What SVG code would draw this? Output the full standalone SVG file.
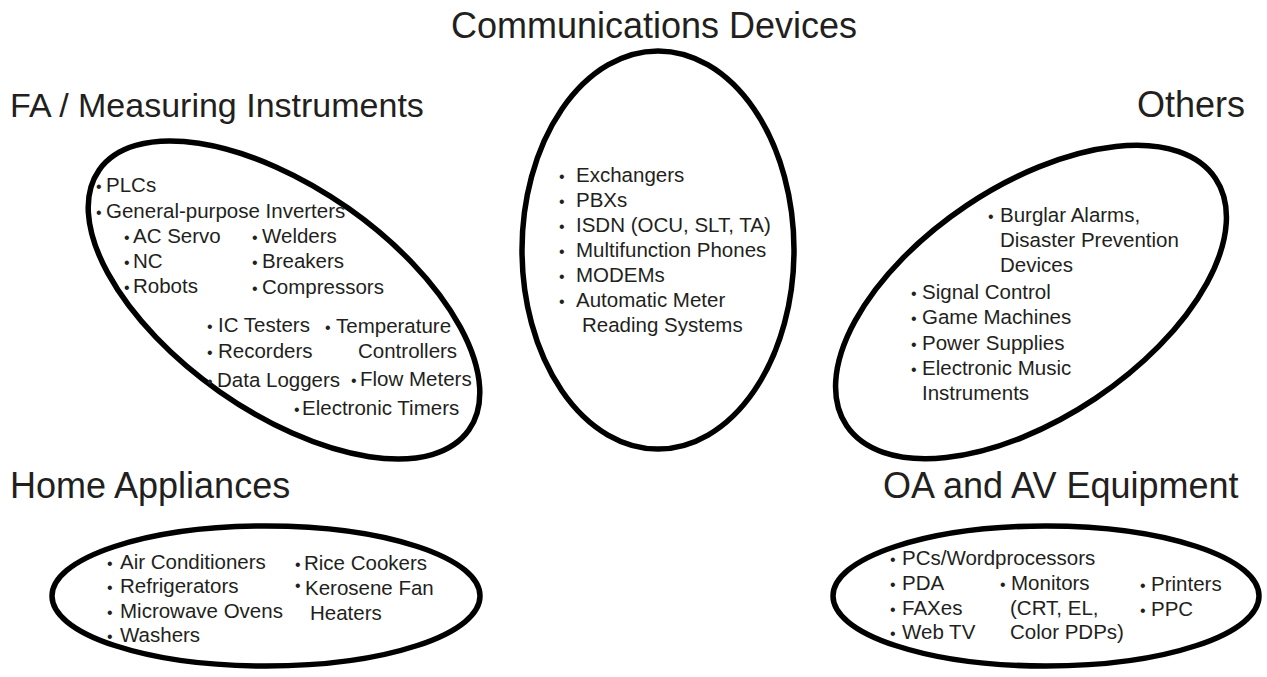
<svg xmlns="http://www.w3.org/2000/svg" width="1267" height="677" viewBox="0 0 1267 677">
<style>
.ring{fill:none;stroke:#000;stroke-width:5.5}
.title{font-family:"Liberation Sans",Arial,sans-serif;font-size:36px;fill:#231f20}
.t{font-family:"Liberation Sans",Arial,sans-serif;font-size:20.5px;fill:#231f20}
.b{font-size:16px}
</style>
<rect width="1267" height="677" fill="#fff"/>
<g id="connectors"></g>

<g id="communications">
<ellipse class="ring" cx="658" cy="250" rx="136" ry="199"/>
<text class="title" x="654" y="38" text-anchor="middle">Communications Devices</text>
<text class="t" y="182"><tspan class="b" x="559">•</tspan><tspan x="576">Exchangers</tspan></text>
<text class="t" y="207"><tspan class="b" x="559">•</tspan><tspan x="576">PBXs</tspan></text>
<text class="t" y="232"><tspan class="b" x="559">•</tspan><tspan x="576">ISDN (OCU, SLT, TA)</tspan></text>
<text class="t" y="257"><tspan class="b" x="559">•</tspan><tspan x="576">Multifunction Phones</tspan></text>
<text class="t" y="282"><tspan class="b" x="559">•</tspan><tspan x="576">MODEMs</tspan></text>
<text class="t" y="307"><tspan class="b" x="559">•</tspan><tspan x="576">Automatic Meter</tspan></text>
<text class="t" x="582" y="332">Reading Systems</text>
</g>

<g id="fa">
<ellipse class="ring" cx="284" cy="300" rx="226" ry="112" transform="rotate(35.1 284 300)"/>
<text class="title" x="10" y="117" style="font-size:34px">FA / Measuring Instruments</text>
<text class="t" y="192"><tspan class="b" x="96">•</tspan><tspan x="106">PLCs</tspan></text>
<text class="t" y="218"><tspan class="b" x="96">•</tspan><tspan x="106">General-purpose Inverters</tspan></text>
<text class="t" y="243"><tspan class="b" x="124">•</tspan><tspan x="133">AC Servo</tspan></text>
<text class="t" y="268"><tspan class="b" x="124">•</tspan><tspan x="133">NC</tspan></text>
<text class="t" y="293"><tspan class="b" x="124">•</tspan><tspan x="133">Robots</tspan></text>
<text class="t" y="243"><tspan class="b" x="252">•</tspan><tspan x="262">Welders</tspan></text>
<text class="t" y="268"><tspan class="b" x="252">•</tspan><tspan x="262">Breakers</tspan></text>
<text class="t" y="294"><tspan class="b" x="252">•</tspan><tspan x="262">Compressors</tspan></text>
<text class="t" y="332"><tspan class="b" x="207">•</tspan><tspan x="218">IC Testers</tspan></text>
<text class="t" y="358"><tspan class="b" x="207">•</tspan><tspan x="218">Recorders</tspan></text>
<text class="t" y="387"><tspan class="b" x="207">•</tspan><tspan x="217">Data Loggers</tspan></text>
<text class="t" y="333"><tspan class="b" x="325">•</tspan><tspan x="336">Temperature</tspan></text>
<text class="t" x="358" y="358">Controllers</text>
<text class="t" y="386"><tspan class="b" x="351">•</tspan><tspan x="360">Flow Meters</tspan></text>
<text class="t" y="415"><tspan class="b" x="294">•</tspan><tspan x="302">Electronic Timers</tspan></text>
</g>

<g id="others">
<ellipse class="ring" cx="1031" cy="302" rx="222" ry="116" transform="rotate(-33.8 1031 302)"/>
<text class="title" x="1245" y="117" text-anchor="end">Others</text>
<text class="t" y="222"><tspan class="b" x="988">•</tspan><tspan x="1000">Burglar Alarms,</tspan></text>
<text class="t" x="1000" y="247">Disaster Prevention</text>
<text class="t" x="1000" y="272">Devices</text>
<text class="t" y="299"><tspan class="b" x="911">•</tspan><tspan x="922">Signal Control</tspan></text>
<text class="t" y="324"><tspan class="b" x="911">•</tspan><tspan x="922">Game Machines</tspan></text>
<text class="t" y="350"><tspan class="b" x="911">•</tspan><tspan x="922">Power Supplies</tspan></text>
<text class="t" y="375"><tspan class="b" x="911">•</tspan><tspan x="922">Electronic Music</tspan></text>
<text class="t" x="922" y="400">Instruments</text>
</g>

<g id="home">
<ellipse class="ring" cx="266" cy="596" rx="214" ry="70"/>
<text class="title" x="10" y="498">Home Appliances</text>
<text class="t" y="569"><tspan class="b" x="107">•</tspan><tspan x="120">Air Conditioners</tspan></text>
<text class="t" y="593"><tspan class="b" x="107">•</tspan><tspan x="120">Refrigerators</tspan></text>
<text class="t" y="618"><tspan class="b" x="107">•</tspan><tspan x="120">Microwave Ovens</tspan></text>
<text class="t" y="642"><tspan class="b" x="107">•</tspan><tspan x="120">Washers</tspan></text>
<text class="t" y="570"><tspan class="b" x="295">•</tspan><tspan x="304">Rice Cookers</tspan></text>
<text class="t" y="595"><tspan class="b" x="295" dy="-4">•</tspan><tspan x="305" dy="4">Kerosene Fan</tspan></text>
<text class="t" x="310" y="620">Heaters</text>
</g>

<g id="oa">
<ellipse class="ring" cx="1046" cy="596" rx="213" ry="70"/>
<text class="title" x="883" y="498">OA and AV Equipment</text>
<text class="t" y="565"><tspan class="b" x="890">•</tspan><tspan x="902">PCs/Wordprocessors</tspan></text>
<text class="t" y="590"><tspan class="b" x="890">•</tspan><tspan x="902">PDA</tspan></text>
<text class="t" y="615"><tspan class="b" x="890">•</tspan><tspan x="902">FAXes</tspan></text>
<text class="t" y="639"><tspan class="b" x="890">•</tspan><tspan x="902">Web TV</tspan></text>
<text class="t" y="590"><tspan class="b" x="1000">•</tspan><tspan x="1011">Monitors</tspan></text>
<text class="t" x="1010" y="615">(CRT, EL,</text>
<text class="t" x="1010" y="639">Color PDPs)</text>
<text class="t" y="591"><tspan class="b" x="1140">•</tspan><tspan x="1151">Printers</tspan></text>
<text class="t" y="616"><tspan class="b" x="1140">•</tspan><tspan x="1151">PPC</tspan></text>
</g>
</svg>
